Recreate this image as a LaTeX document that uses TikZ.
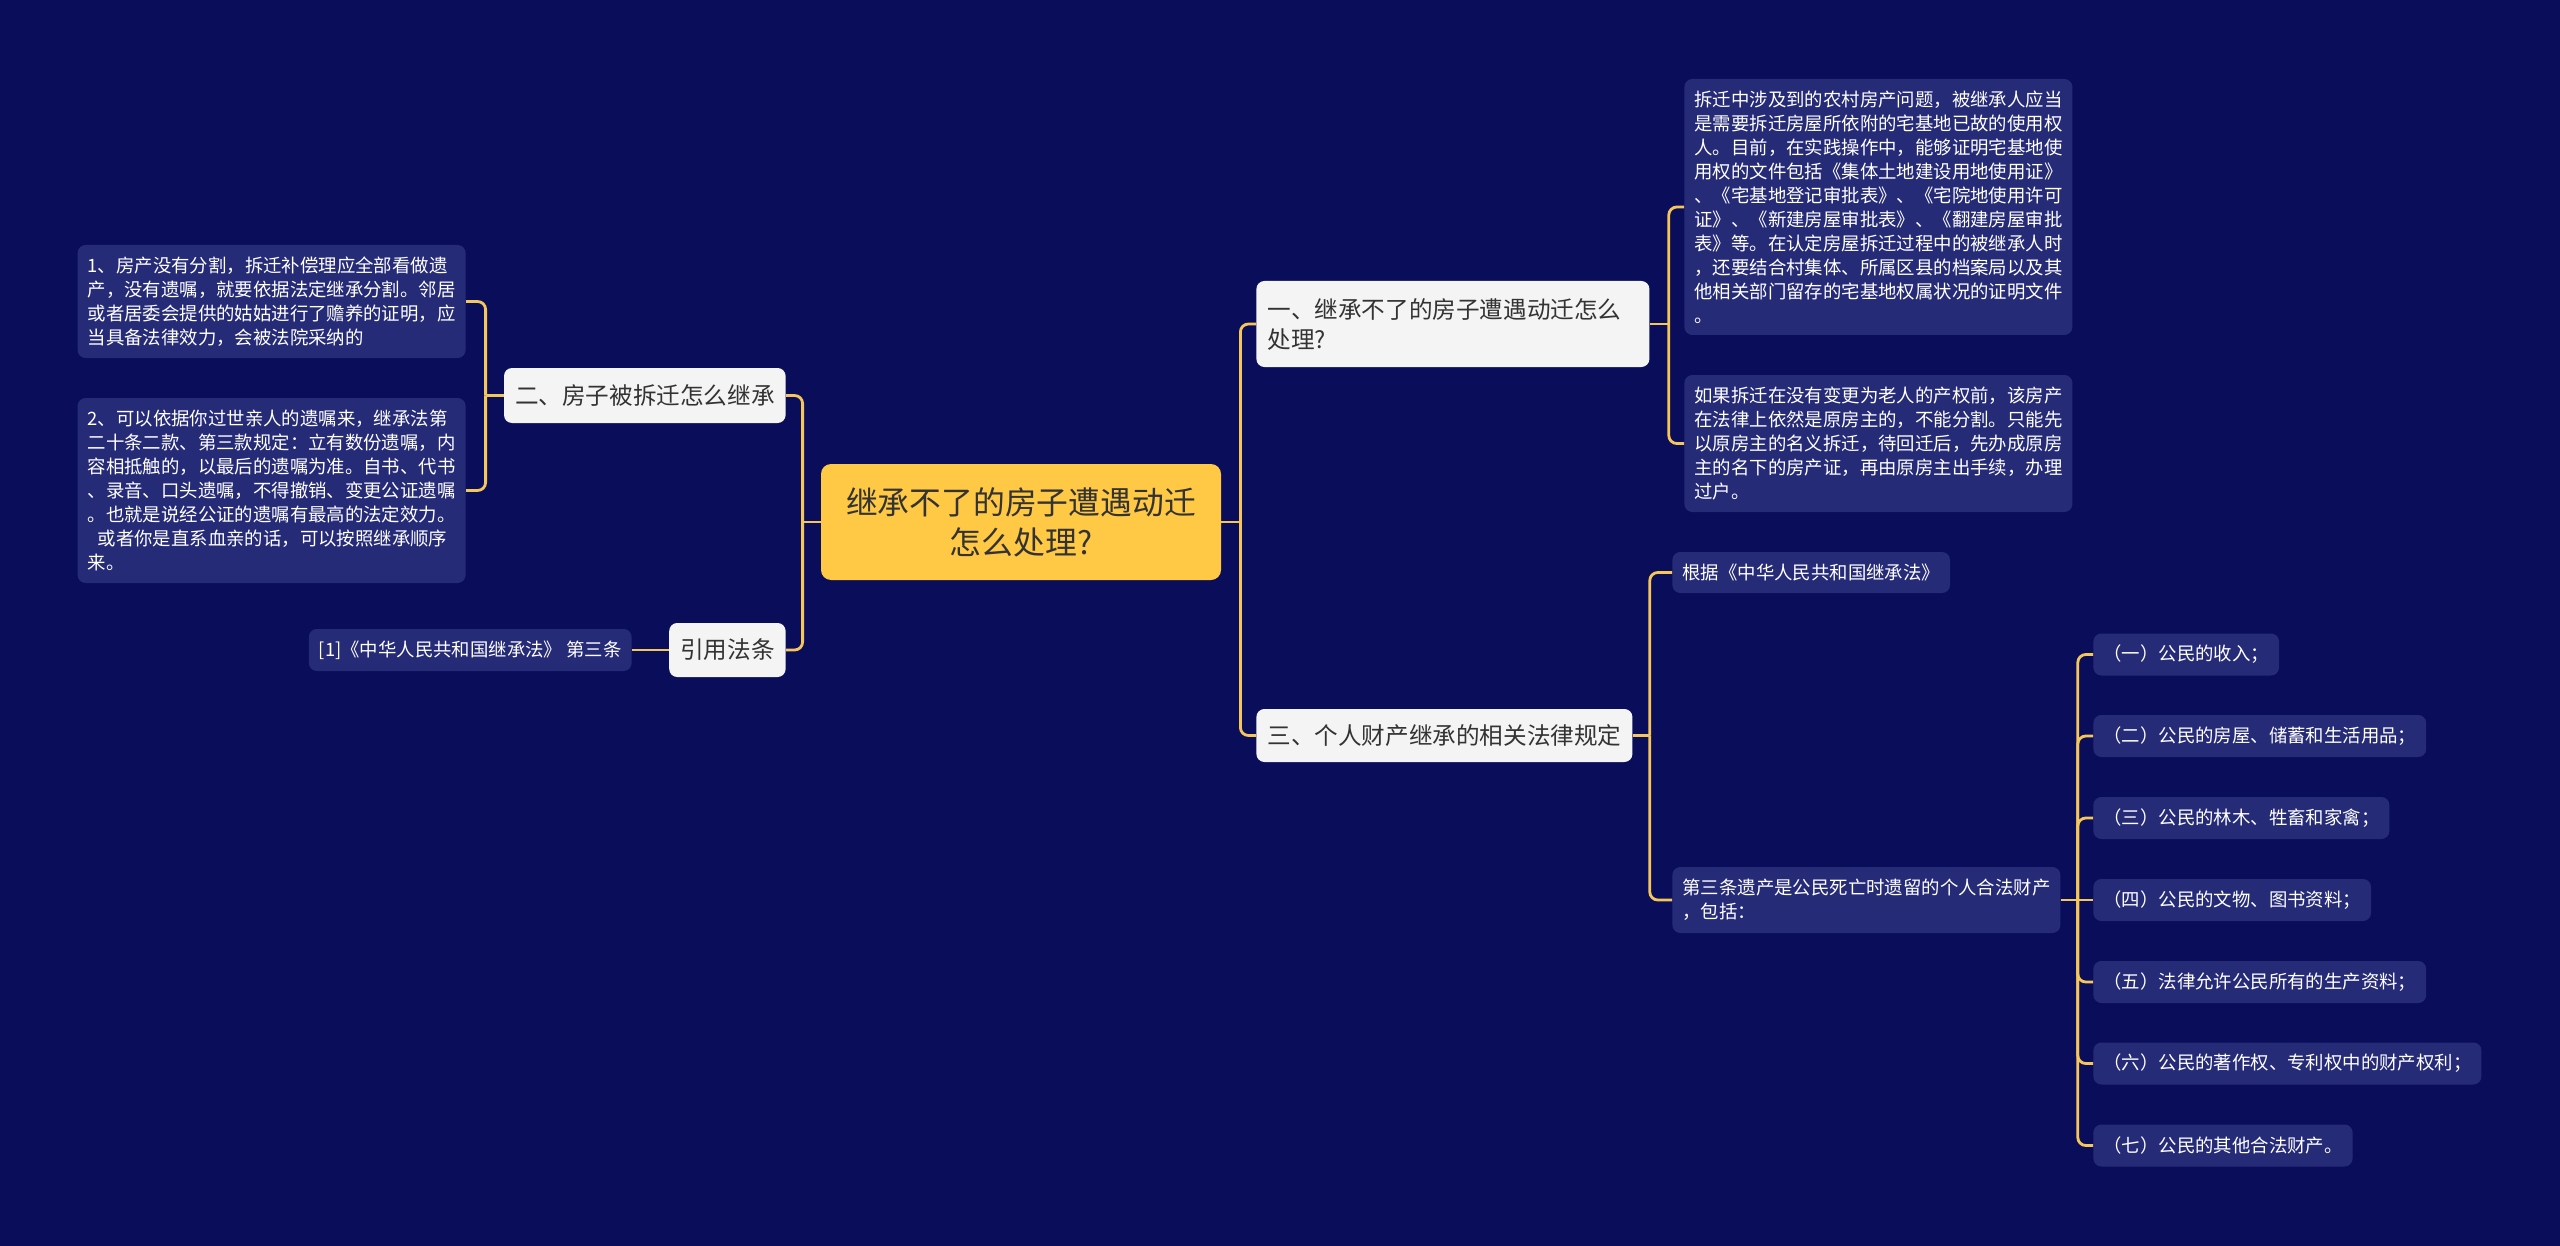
\documentclass[tikz,border=0pt]{standalone}
\usepackage{fontspec}
\setmainfont{Noto Sans CJK SC}
\definecolor{bgc}{HTML}{0A0E5A}
\definecolor{leafc}{HTML}{262B78}
\definecolor{topicc}{HTML}{F4F4F5}
\definecolor{centerc}{HTML}{FFC845}
\definecolor{linec}{HTML}{F5C65A}
\definecolor{darktext}{HTML}{333333}
\begin{document}
\begin{tikzpicture}[x=0.5pt,y=-0.5pt,
  box/.style={inner ysep=0pt, align=left},
  centerbox/.style={box, fill=centerc, text=darktext, rounded corners=5pt, align=center,
     font=\fontsize{15.9}{20}\selectfont, inner xsep=6pt},
  topicbox/.style={box, fill=topicc, text=darktext, rounded corners=4pt, inner xsep=5.5pt,
     font=\fontsize{11.8}{15}\selectfont},
  leafbox/.style={box, fill=leafc, text=white, rounded corners=4pt, inner xsep=5pt,
     font=\fontsize{9.2}{12}\selectfont},
  conn/.style={draw=linec, line width=1.4pt},
  branch/.style={conn, rounded corners=4pt}
]
\fill[bgc] (0,0) rectangle (2560,1246);
\useasboundingbox (0,0) rectangle (2560,1246);

% center
\node[centerbox, minimum width=200pt, minimum height=58pt] (c) at (1021,522)
  {继承不了的房子遭遇动迁\\怎么处理?};

% right topics
\node[topicbox, anchor=west, text width=185.5pt, minimum height=43pt] (t1) at (1256,324)
  {一、继承不了的房子遭遇动迁怎么\\处理?};
\node[topicbox, anchor=west, minimum height=26.5pt] (t3) at (1256,735.5)
  {三、个人财产继承的相关法律规定};

% left topics
\node[topicbox, anchor=east, minimum height=27.5pt] (t2) at (786,395.5)
  {二、房子被拆迁怎么继承};
\node[topicbox, anchor=east, minimum height=27pt] (t4) at (786,650)
  {引用法条};

% left leaves
\node[leafbox, anchor=east, minimum height=21pt] (l0) at (632,650)
  {[1]《中华人民共和国继承法》 第三条};
\node[leafbox, anchor=east, minimum width=193.5pt, minimum height=56.5pt] (ll1) at (466,301.5)
  {1、房产没有分割，拆迁补偿理应全部看做遗\\
   产，没有遗嘱，就要依据法定继承分割。邻居\\
   或者居委会提供的姑姑进行了赡养的证明，应\\
   当具备法律效力，会被法院采纳的};
\node[leafbox, anchor=east, minimum width=193.5pt, minimum height=92.5pt] (ll2) at (466,490.5)
  {2、可以依据你过世亲人的遗嘱来，继承法第\\
   二十条二款、第三款规定：立有数份遗嘱，内\\
   容相抵触的，以最后的遗嘱为准。自书、代书\\
   、录音、口头遗嘱，不得撤销、变更公证遗嘱\\
   。也就是说经公证的遗嘱有最高的法定效力。\\
   \hspace*{0.55em}或者你是直系血亲的话，可以按照继承顺序\\
   来。};

% right leaves of topic 1
\node[leafbox, anchor=west, minimum width=193.5pt, minimum height=128pt] (rl1) at (1684,207)
  {拆迁中涉及到的农村房产问题，被继承人应当\\
   是需要拆迁房屋所依附的宅基地已故的使用权\\
   人。目前，在实践操作中，能够证明宅基地使\\
   用权的文件包括《集体土地建设用地使用证》\\
   、《宅基地登记审批表》、《宅院地使用许可\\
   证》、《新建房屋审批表》、《翻建房屋审批\\
   表》等。在认定房屋拆迁过程中的被继承人时\\
   ，还要结合村集体、所属区县的档案局以及其\\
   他相关部门留存的宅基地权属状况的证明文件\\
   。};
\node[leafbox, anchor=west, minimum width=193.5pt, minimum height=68.5pt] (rl2) at (1684,443.5)
  {如果拆迁在没有变更为老人的产权前，该房产\\
   在法律上依然是原房主的，不能分割。只能先\\
   以原房主的名义拆迁，待回迁后，先办成原房\\
   主的名下的房产证，再由原房主出手续，办理\\
   过户。};

% leaves of topic 3
\node[leafbox, anchor=west, minimum height=20.5pt] (r3a) at (1672,572.5)
  {根据《中华人民共和国继承法》};
\node[leafbox, anchor=west, minimum width=193pt, minimum height=33pt] (r3b) at (1672,900)
  {第三条遗产是公民死亡时遗留的个人合法财产\\，包括：};

% items
\node[leafbox, anchor=west, minimum height=21pt] (i1) at (2093,654.5) {（一）公民的收入；};
\node[leafbox, anchor=west, minimum height=21pt] (i2) at (2093,736) {（二）公民的房屋、储蓄和生活用品；};
\node[leafbox, anchor=west, minimum height=21pt] (i3) at (2093,818) {（三）公民的林木、牲畜和家禽；};
\node[leafbox, anchor=west, minimum height=21pt] (i4) at (2093,900) {（四）公民的文物、图书资料；};
\node[leafbox, anchor=west, minimum height=21pt] (i5) at (2093,982) {（五）法律允许公民所有的生产资料；};
\node[leafbox, anchor=west, minimum height=21pt] (i6) at (2093,1063.5) {（六）公民的著作权、专利权中的财产权利；};
\node[leafbox, anchor=west, minimum height=21pt] (i7) at (2093,1145.5) {（七）公民的其他合法财产。};

% connectors
\draw[conn] (c.east) -- ++(19,0) coordinate (jR);
\draw[branch] (jR) |- (t1.west);
\draw[branch] (jR) |- (t3.west);

\draw[conn] (c.west) -- ++(-18,0) coordinate (jL);
\draw[branch] (jL) |- (t2.east);
\draw[branch] (jL) |- (t4.east);

\draw[conn] (t2.west) -- ++(-18,0) coordinate (j2);
\draw[branch] (j2) |- (ll1.east);
\draw[branch] (j2) |- (ll2.east);

\draw[conn] (t4.west) -- (l0.east);

\draw[conn] (t1.east) -- ++(19,0) coordinate (j1);
\draw[branch] (j1) |- (rl1.west);
\draw[branch] (j1) |- (rl2.west);

\draw[conn] (t3.east) -- ++(17,0) coordinate (j3);
\draw[branch] (j3) |- (r3a.west);
\draw[branch] (j3) |- (r3b.west);

\draw[conn] (r3b.east) -- ++(17,0) coordinate (j4);
\foreach \k in {i1,i2,i3,i5,i6,i7} {\draw[branch] (j4) |- (\k.west);}
\draw[conn] (j4) -- (i4.west);
\end{tikzpicture}
\end{document}
